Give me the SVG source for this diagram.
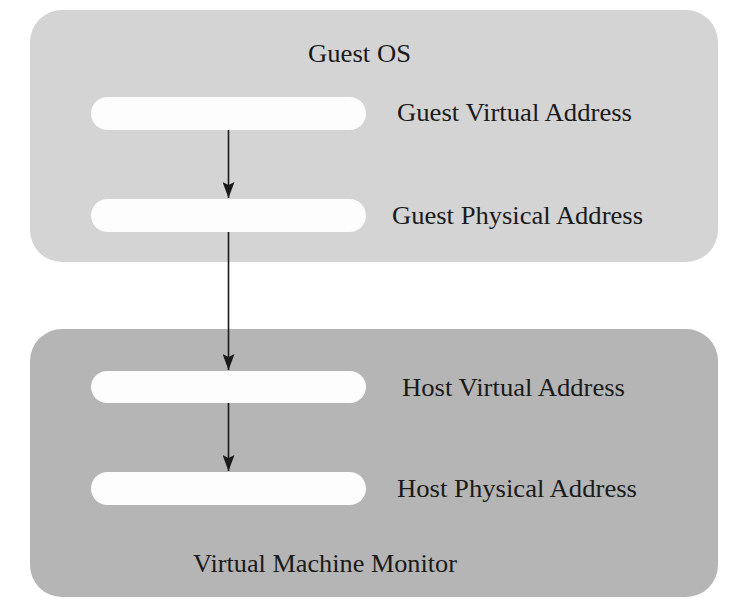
<svg xmlns="http://www.w3.org/2000/svg" width="746" height="603" viewBox="0 0 746 603">
<style>
.lbl{font-family:"Liberation Serif","Times New Roman",serif;font-size:26px;fill:#1a1a1a}
.bar{fill:#fdfdfd}
.conn{stroke:#1a1a1a;stroke-width:1.6;fill:none}
</style>
<defs>
<marker id="ah" viewBox="0 0 16 12" refX="16" refY="6" markerWidth="16" markerHeight="12" markerUnits="userSpaceOnUse" orient="auto">
<path d="M0,0 L3,6 L0,12 L16,6 Z" fill="#1a1a1a"/>
</marker>
</defs>
<rect width="746" height="603" fill="#ffffff"/>
<g id="guest-os">
<rect x="30" y="10" width="688" height="252" rx="32" fill="#d4d4d4"/>
<text class="lbl" x="308" y="62" textLength="103" lengthAdjust="spacingAndGlyphs">Guest OS</text>
</g>
<g id="vmm">
<rect x="30" y="329" width="688" height="268" rx="32" fill="#b5b5b5"/>
<text class="lbl" x="193" y="572" textLength="264" lengthAdjust="spacingAndGlyphs">Virtual Machine Monitor</text>
</g>
<g id="gva">
<rect class="bar" x="91" y="97" width="275" height="33" rx="16.5"/>
<text class="lbl" x="397" y="121" textLength="235" lengthAdjust="spacingAndGlyphs">Guest Virtual Address</text>
</g>
<g id="gpa">
<rect class="bar" x="91" y="199" width="275" height="33" rx="16.5"/>
<text class="lbl" x="392" y="224" textLength="251" lengthAdjust="spacingAndGlyphs">Guest Physical Address</text>
</g>
<g id="hva">
<rect class="bar" x="91" y="371" width="275" height="32" rx="16"/>
<text class="lbl" x="402" y="396" textLength="223" lengthAdjust="spacingAndGlyphs">Host Virtual Address</text>
</g>
<g id="hpa">
<rect class="bar" x="91" y="472" width="275" height="33" rx="16.5"/>
<text class="lbl" x="397" y="497" textLength="240" lengthAdjust="spacingAndGlyphs">Host Physical Address</text>
</g>
<g id="connectors">
<line class="conn" x1="228.5" y1="130" x2="228.5" y2="198" marker-end="url(#ah)"/>
<line class="conn" x1="228.5" y1="232" x2="228.5" y2="370" marker-end="url(#ah)"/>
<line class="conn" x1="228.5" y1="403" x2="228.5" y2="471" marker-end="url(#ah)"/>
</g>
</svg>
